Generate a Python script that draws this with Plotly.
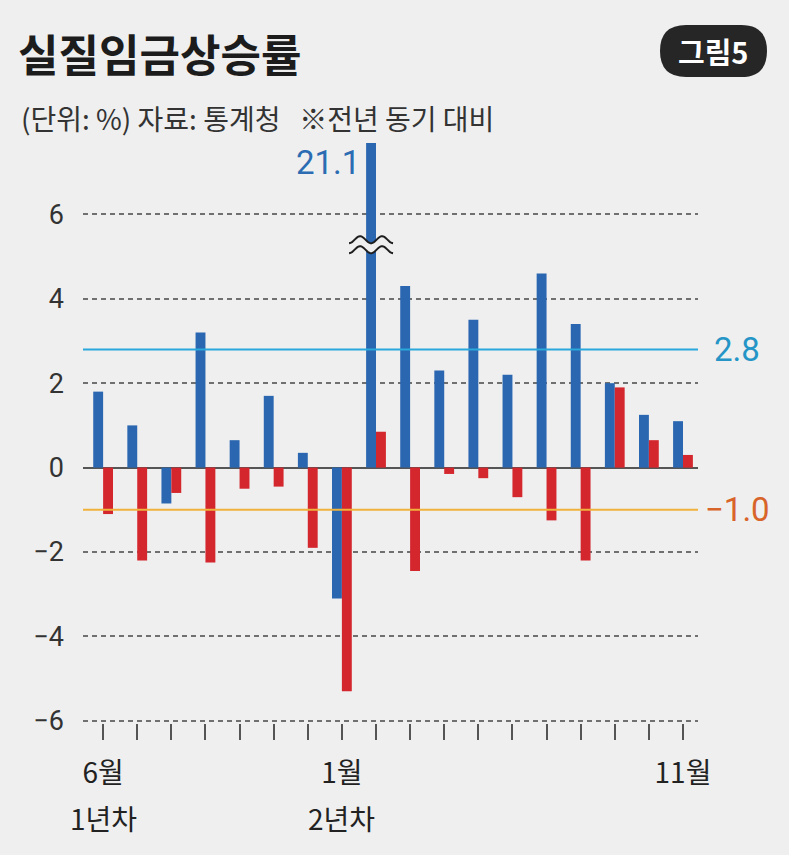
import math
import plotly.graph_objects as go

# ---------------- data ----------------
months = ["6월", "7월", "8월", "9월", "10월", "11월", "12월",
          "1월", "2월", "3월", "4월", "5월", "6월", "7월", "8월", "9월", "10월", "11월"]
tick_text = ["6월", "", "", "", "", "", "", "1월", "", "", "", "", "", "", "", "", "", "11월"]
year_labels = {0: "1년차", 7: "2년차"}
blue_vals = [1.8, 1.0, -0.85, 3.2, 0.65, 1.7, 0.35, -3.1, 21.1, 4.3, 2.3, 3.5, 2.2, 4.6, 3.4, 2.0, 1.25, 1.1]
red_vals = [-1.1, -2.2, -0.6, -2.25, -0.5, -0.45, -1.9, -5.3, 0.85, -2.45, -0.15, -0.25, -0.7, -1.25, -2.2, 1.9, 0.65, 0.3]
blue_avg = 2.8
red_avg = -1.0
y_ticks = [-6, -4, -2, 0, 2, 4, 6]
y_tick_text = ["−6", "−4", "−2", "0", "2", "4", "6"]
break_index = 8          # bar shown with an axis break
break_label = "21.1"

# ---------------- style ----------------
W, H = 789, 855
ML, MR, MT, MB = 83, 91, 143, 132
PW, PH = W - ML - MR, H - MT - MB
BG = "#efefef"
BLUE = "#2a67b0"
RED = "#d3262d"
CYAN = "#2aa7db"
ORANGE = "#f1b23c"
BAR_W = 0.29
Y_RANGE = [-6.05, 7.69]


def px2x(px):
    return (px - ML) / PW


def py2y(py):
    return (H - MB - py) / PH


x = list(range(len(months)))

fig = go.Figure()
fig.add_trace(go.Bar(x=x, y=blue_vals, width=BAR_W, offset=-BAR_W,
                     marker=dict(color=BLUE, line=dict(width=0)),
                     name="계열 1", hovertext=months))
fig.add_trace(go.Bar(x=x, y=red_vals, width=BAR_W, offset=0,
                     marker=dict(color=RED, line=dict(width=0)),
                     name="계열 2", hovertext=months))

shapes = []
# average lines
shapes.append(dict(type="line", xref="paper", x0=0, x1=1, yref="y", y0=blue_avg, y1=blue_avg,
                   line=dict(color=CYAN, width=2), layer="above"))
shapes.append(dict(type="line", xref="paper", x0=0, x1=1, yref="y", y0=red_avg, y1=red_avg,
                   line=dict(color=ORANGE, width=2), layer="above"))

# axis-break symbol on the tall bar (pixel-sized, anchored on the bar)
def wave(yoff, amp=3.5, half=22, period=22, n=45, reverse=False):
    pts = []
    for i in range(n + 1):
        xx = -half + 2 * half * i / n
        yy = yoff - amp * math.cos(2 * math.pi * xx / period)
        pts.append((xx, yy))
    if reverse:
        pts = pts[::-1]
    return pts

up = wave(5)
lo = wave(-5, reverse=True)
band = "M " + " L ".join(f"{a:.2f},{b:.2f}" for a, b in up + lo) + " Z"
brk_x = break_index - BAR_W / 2
brk_y = 5.28
common = dict(type="path", xref="x", yref="y", xsizemode="pixel", ysizemode="pixel",
              xanchor=brk_x, yanchor=brk_y, layer="above")
shapes.append(dict(path=band, fillcolor=BG, line=dict(width=0), **common))
for w in (wave(5), wave(-5)):
    p = "M " + " L ".join(f"{a:.2f},{b:.2f}" for a, b in w)
    shapes.append(dict(path=p, line=dict(color="#1e1e1e", width=2), **common))

# badge (pill)
bx0, bx1, by0, by1 = px2x(660), px2x(767), py2y(77), py2y(25)
r_x = 26 / PW
pill = (f"M {bx0 + r_x},{by0} L {bx1 - r_x},{by0} "
        f"Q {bx1},{by0} {bx1},{(by0 + by1) / 2} Q {bx1},{by1} {bx1 - r_x},{by1} "
        f"L {bx0 + r_x},{by1} Q {bx0},{by1} {bx0},{(by0 + by1) / 2} Q {bx0},{by0} {bx0 + r_x},{by0} Z")
shapes.append(dict(type="path", xref="paper", yref="paper", path=pill,
                   fillcolor="#262626", line=dict(width=0)))

annotations = []
annotations.append(dict(text="<b>실질임금상승률</b>", xref="paper", yref="paper",
                        x=px2x(16), y=py2y(53), xanchor="left", yanchor="middle", showarrow=False,
                        font=dict(family="Noto Sans CJK KR", size=44, color="#1c1c1c")))
annotations.append(dict(text="(단위: %) 자료: 통계청   ※전년 동기 대비", xref="paper", yref="paper",
                        x=px2x(19), y=py2y(118), xanchor="left", yanchor="middle", showarrow=False,
                        font=dict(family="Noto Sans CJK KR", size=28, color="#333333")))
annotations.append(dict(text="<b>그림5</b>", xref="paper", yref="paper",
                        x=px2x(713), y=py2y(51), xanchor="center", yanchor="middle", showarrow=False,
                        font=dict(family="Noto Sans CJK KR", size=29, color="#ffffff")))
annotations.append(dict(text=f"{blue_avg:.1f}", xref="paper", yref="y", x=1, y=blue_avg,
                        xanchor="left", yanchor="middle", xshift=14, showarrow=False,
                        font=dict(family="Roboto", size=33, color="#2495c6")))
annotations.append(dict(text=f"−{abs(red_avg):.1f}", xref="paper", yref="y", x=1, y=red_avg,
                        xanchor="left", yanchor="middle", xshift=5, showarrow=False,
                        font=dict(family="Roboto", size=33, color="#d8642a")))
annotations.append(dict(text=break_label, xref="x", yref="paper", x=break_index - BAR_W,
                        y=py2y(163), xanchor="right", yanchor="middle", xshift=-4, showarrow=False,
                        font=dict(family="Roboto", size=33, color="#2b6cb3")))
for idx, lab in year_labels.items():
    annotations.append(dict(text=lab, xref="x", yref="paper", x=idx, y=py2y(818),
                            xanchor="center", yanchor="middle", showarrow=False,
                            font=dict(family="Noto Sans CJK KR", size=28, color="#222222")))

fig.update_layout(
    width=W, height=H,
    margin=dict(l=ML, r=MR, t=MT, b=MB, pad=0),
    paper_bgcolor=BG, plot_bgcolor=BG,
    showlegend=False,
    barmode="overlay",
    shapes=shapes,
    annotations=annotations,
    xaxis=dict(range=[-0.59, 17.44], tickmode="array", tickvals=x, ticktext=tick_text,
               ticks="outside", ticklen=16, tickwidth=1.5, tickcolor="#555555",
               showgrid=False, zeroline=False, showline=False, ticklabelstandoff=9,
               tickfont=dict(family="Noto Sans CJK KR", size=28, color="#222222")),
    yaxis=dict(range=Y_RANGE, tickmode="array", tickvals=y_ticks, ticktext=y_tick_text,
               showgrid=True, gridcolor="#707070", gridwidth=1.5, griddash="5px,4px",
               zeroline=True, zerolinecolor="#555555", zerolinewidth=1.5,
               showline=False, ticks="", ticklabelstandoff=18,
               tickfont=dict(family="Roboto", size=27, color="#333333")),
)

fig.write_html("out.html", config={"displayModeBar": False},
               post_script="document.body.style.margin='0';document.body.style.background='#efefef';")
